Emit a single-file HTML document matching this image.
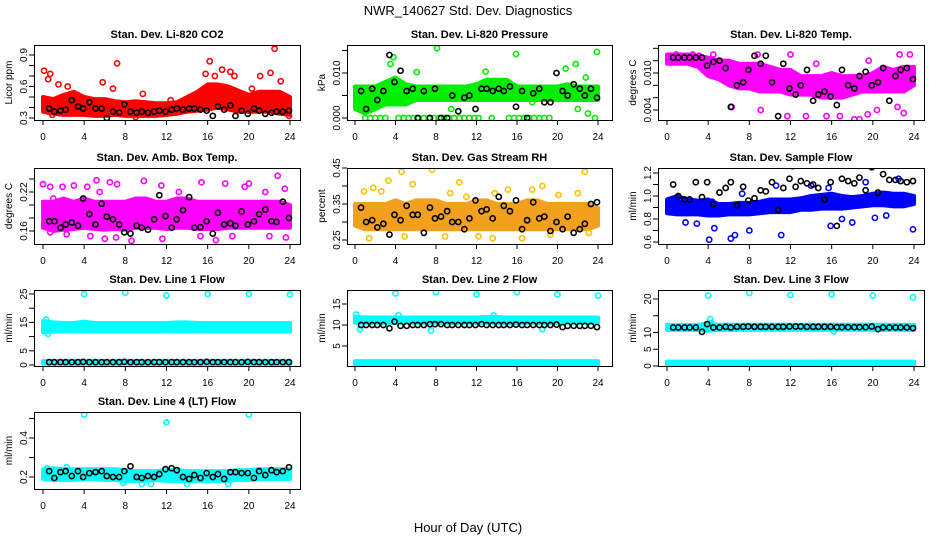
<!DOCTYPE html>
<html><head><meta charset="utf-8"><style>
html,body{margin:0;padding:0;background:#fff;}
svg{display:block;font-family:"Liberation Sans",sans-serif;}
</style></head><body>
<svg id="chart" width="936" height="540" viewBox="0 0 936 540" xmlns="http://www.w3.org/2000/svg">
<rect width="936" height="540" fill="#fff"/>
<text x="468" y="15" font-size="13" text-anchor="middle">NWR_140627  Std. Dev. Diagnostics</text>
<text x="468" y="532" font-size="13" text-anchor="middle">Hour of Day (UTC)</text>
</svg>
<script>
const xTicks = [0,4,8,12,16,20,24];
const bandHours = [0,1,2,3,4,5,6,7,8,9,10,11,12,13,14,15,16,17,18,19,20,21,22,23,24];
const blackHours = [0.6,1.1,1.7,2.2,2.8,3.4,3.9,4.5,5.1,5.7,6.2,6.8,7.4,7.9,8.5,9.1,9.6,10.2,10.8,11.3,11.9,12.5,13.0,13.6,14.2,14.7,15.3,15.9,16.5,17.0,17.6,18.2,18.7,19.3,19.9,20.5,21.0,21.6,22.2,22.7,23.3,23.9];

// CO2
const co2Lo = [0.36,0.34,0.33,0.33,0.33,0.32,0.32,0.33,0.32,0.32,0.32,0.32,0.33,0.34,0.36,0.37,0.38,0.40,0.38,0.36,0.36,0.36,0.36,0.34,0.33];
const co2Hi = [0.50,0.48,0.52,0.55,0.50,0.48,0.48,0.46,0.45,0.46,0.45,0.44,0.44,0.45,0.50,0.55,0.62,0.62,0.60,0.56,0.52,0.55,0.55,0.55,0.50];
const co2OutH = [0.1,0.5,0.7,1.5,2.4,5.8,6.8,7.2,9.7,12.4,15.8,16.2,16.7,17.4,18.2,18.6,20.3,21.1,22.1,22.5,23.1,23.9,0.9,3.0,9.0,5.0];
const co2OutV = [0.75,0.67,0.72,0.62,0.60,0.64,0.58,0.82,0.53,0.47,0.72,0.84,0.70,0.76,0.74,0.70,0.58,0.70,0.73,0.96,0.65,0.32,0.33,0.45,0.31,0.35];
const co2Black = [0.39,0.36,0.37,0.38,0.47,0.41,0.39,0.45,0.39,0.39,0.30,0.36,0.35,0.43,0.36,0.35,0.36,0.35,0.36,0.37,0.36,0.38,0.39,0.38,0.39,0.39,0.38,0.37,0.32,0.41,0.38,0.42,0.32,0.37,0.34,0.39,0.37,0.34,0.35,0.36,0.36,0.37];

// Pressure
const presLo = [0.002,0.001,0.002,0.003,0.003,0.003,0.004,0.004,0.004,0.004,0.004,0.004,0.004,0.004,0.004,0.004,0.004,0.004,0.004,0.004,0.004,0.004,0.004,0.004,0.004];
const presHi = [0.007,0.007,0.007,0.008,0.009,0.0075,0.007,0.007,0.007,0.007,0.007,0.007,0.0075,0.0085,0.0085,0.0085,0.007,0.007,0.007,0.007,0.007,0.0075,0.007,0.007,0.007];
const presOutH = [1,1.5,2,2.5,3,4.3,4.8,5.3,5.8,6.3,6.8,7.3,7.8,8.3,8.8,9.3,9.8,10.3,10.8,11.3,11.8,12.2,13.5,15.2,15.7,16.2,16.7,17.2,17.7,18.2,18.7,19.2,23.7,3.8,3.5,8.1,15.9,23.9,6.1,12.9,21.8,20.8,22.8,1.5,0.2,9.5,17.5,22,23];
const presOutV = [0,0,0,0,0,0,0,0,0,0,0,0,0,0,0,0,0,0,0,0,0,0,0,0,0,0,0,0,0,0,0,0,0,0.0135,0.012,0.0155,0.0142,0.0147,0.0102,0.0103,0.012,0.011,0.009,0.0045,0.0042,0.002,0.0035,0.002,0.001];
const presBlack = [0.006,0.002,0.0065,0.004,0.006,0.014,0.008,0.0105,0.006,0.0065,0.000,0.006,0.000,0.0065,0.000,0.000,0.005,0.0015,0.0045,0.005,0.002,0.0065,0.0065,0.006,0.0065,0.006,0.007,0.0025,0.006,0.000,0.0055,0.0065,0.0035,0.0035,0.010,0.006,0.005,0.0075,0.0065,0.005,0.0065,0.0045];

// Li-820 Temp
const tempLo = [0.0115,0.0115,0.0115,0.011,0.0095,0.009,0.008,0.0075,0.0075,0.007,0.007,0.007,0.0065,0.0065,0.0065,0.006,0.006,0.006,0.0065,0.007,0.007,0.007,0.007,0.007,0.008];
const tempHi = [0.013,0.013,0.013,0.0128,0.0125,0.012,0.012,0.0115,0.0115,0.0115,0.011,0.0105,0.0105,0.0095,0.0095,0.0095,0.010,0.0095,0.0095,0.0095,0.010,0.011,0.0105,0.011,0.011];
const tempOutH = [0.9,2.5,3.1,12,10.9,14,11.7,15.5,18.2,18.7,19.5,22.6,23.6,13.5,16.8,6.3,9.1,20.4,22.4,23,4.5,8.8,14.5,19.6];
const tempOutV = [0.013,0.013,0.0128,0.013,0.0005,0.0007,0.003,0.003,0.0025,0.0025,0.0033,0.013,0.013,0.003,0.003,0.0045,0.004,0.004,0.0045,0.0035,0.013,0.013,0.0115,0.012];
const tempBlack = [0.0125,0.0125,0.0125,0.0125,0.0125,0.0125,0.0112,0.0118,0.012,0.0108,0.0045,0.008,0.0085,0.0105,0.0128,0.0115,0.0128,0.0085,0.003,0.0115,0.0075,0.0065,0.008,0.0105,0.0055,0.0065,0.007,0.0062,0.0048,0.0105,0.008,0.0075,0.0095,0.0102,0.008,0.0085,0.0108,0.0055,0.0095,0.0105,0.0108,0.009];

// Amb box temp
const ambLo = [0.165,0.16,0.162,0.163,0.165,0.163,0.162,0.163,0.162,0.165,0.165,0.165,0.163,0.165,0.165,0.163,0.163,0.163,0.165,0.165,0.165,0.165,0.165,0.165,0.165];
const ambHi = [0.205,0.205,0.21,0.205,0.21,0.205,0.205,0.205,0.205,0.21,0.21,0.205,0.205,0.21,0.21,0.205,0.205,0.205,0.205,0.205,0.205,0.205,0.205,0.205,0.20];
const ambOutH = [0,0.7,1.9,3,4.3,5.2,6.5,7.2,9.5,9.8,11.5,15.4,17.7,19.6,20,22.8,23.5,0.7,2.3,4.6,6,7.1,8.6,11.6,15.3,16.8,18.4,22,23.6,21.6,13.2,5.5,1];
const ambOutV = [0.232,0.228,0.228,0.23,0.228,0.238,0.235,0.232,0.26,0.237,0.23,0.235,0.233,0.228,0.233,0.245,0.225,0.158,0.155,0.152,0.148,0.15,0.145,0.148,0.152,0.146,0.152,0.152,0.15,0.22,0.22,0.22,0.21];
const ambBlack = [0.175,0.175,0.165,0.17,0.173,0.168,0.21,0.186,0.17,0.202,0.182,0.178,0.17,0.158,0.156,0.168,0.165,0.162,0.178,0.215,0.183,0.165,0.178,0.192,0.212,0.165,0.166,0.175,0.156,0.188,0.17,0.172,0.168,0.19,0.17,0.175,0.186,0.193,0.175,0.174,0.205,0.18];

// Gas stream RH
const rhLo = [0.29,0.28,0.28,0.28,0.28,0.28,0.28,0.28,0.28,0.28,0.28,0.28,0.28,0.28,0.28,0.28,0.28,0.28,0.28,0.28,0.28,0.28,0.28,0.28,0.29];
const rhHi = [0.35,0.35,0.35,0.35,0.36,0.35,0.36,0.36,0.36,0.35,0.35,0.35,0.36,0.36,0.35,0.35,0.35,0.36,0.36,0.35,0.35,0.35,0.35,0.35,0.34];
const rhOutH = [1.4,3.3,4.6,5.7,7.6,8.9,10.3,15.1,16.5,18.5,22.7,23.1,0.9,1.8,2.6,4.9,12.2,13.6,20.1,22,17.5,9.4,11,13.8,19.3];
const rhOutV = [0.255,0.415,0.44,0.405,0.445,0.26,0.41,0.39,0.255,0.40,0.44,0.27,0.385,0.395,0.385,0.26,0.26,0.255,0.375,0.38,0.39,0.38,0.37,0.38,0.265];
const rhBlack = [0.34,0.30,0.305,0.285,0.295,0.265,0.32,0.305,0.345,0.32,0.32,0.27,0.34,0.31,0.315,0.33,0.30,0.30,0.28,0.31,0.36,0.33,0.335,0.31,0.37,0.345,0.33,0.36,0.28,0.305,0.355,0.31,0.315,0.275,0.30,0.28,0.315,0.27,0.28,0.295,0.35,0.355];

// Sample flow
const sfLo = [0.85,0.84,0.84,0.84,0.83,0.83,0.84,0.84,0.84,0.85,0.86,0.86,0.86,0.88,0.88,0.89,0.89,0.89,0.90,0.91,0.92,0.92,0.91,0.91,0.93];
const sfHi = [0.97,1.0,0.97,0.96,0.97,0.93,0.93,0.94,0.94,0.95,0.97,0.97,0.97,0.98,1.0,1.01,1.02,1.0,0.99,1.0,1.02,1.03,1.02,1.02,1.0];
const sfOutH = [1.8,2.9,4.1,4.6,6.2,6.6,8,11.1,15.9,18,17,20.2,21.3,23.9,12.2,19.3,15.7,10.6,7.3,4.4,14,22.5];
const sfOutV = [0.77,0.76,0.62,0.72,0.63,0.66,0.70,0.66,0.74,0.77,0.80,0.81,0.83,0.71,1.26,1.12,1.07,1.09,1.02,0.95,1.09,1.15];
const sfBlack = [1.1,1.0,0.97,0.97,1.12,0.99,1.12,0.93,1.03,1.07,1.12,0.92,1.08,0.96,0.98,1.05,1.04,1.12,0.88,1.07,1.15,1.08,1.13,1.11,1.10,1.07,0.97,1.12,0.74,1.15,1.13,1.11,1.16,1.05,1.25,1.03,1.19,1.14,1.14,1.13,1.12,1.13];

// Line 1
const l1Lo = [11.5,11.8,11.8,11.8,11.8,11.8,11.8,11.8,11.8,11.8,11.8,11.8,11.8,11.8,11.8,11.8,11.8,11.8,11.8,11.8,11.8,11.8,11.8,11.8,11.8];
const l1Hi = [15.5,15,14.8,14.8,15.3,14.8,14.8,14.8,14.8,14.8,14.8,14.8,14.8,15,15,14.8,14.8,14.8,14.8,14.8,14.8,14.8,14.8,14.8,14.8];
const l1Lo2 = [0.5,0.5,0.5,0.5,0.5,0.5,0.5,0.5,0.5,0.5,0.5,0.5,0.5,0.5,0.5,0.5,0.5,0.5,0.5,0.5,0.5,0.5,0.5,0.5,0.5];
const l1Hi2 = [1.4,1.4,1.4,1.4,1.4,1.4,1.4,1.4,1.4,1.4,1.4,1.4,1.4,1.4,1.4,1.4,1.4,1.4,1.4,1.4,1.4,1.4,1.4,1.4,1.4];
const l1OutH = [4,8,12,16,20,24,0.3,0.5];
const l1OutV = [25,25.5,24.5,25,25,24.8,16,11];
const l1Black = [1,1,1,1,1,1,1.1,1,1,1,1,1,1,1.1,1,1,1,1,1,1,1,1,1,1,1,1,1,1.1,1,1,1,1,1,1,1.1,1,1,1,1,1,1,1];

// Line 2
const l2Lo = [10.5,10.5,10.5,10.5,10.5,10.5,10.5,10.5,10.5,10.5,10.5,10.5,10.5,10.5,10.5,10.5,10.5,10.5,10.5,10.5,10.5,10.5,10.5,10.5,10.5];
const l2Hi = [12,11.8,11.8,11.8,11.8,11.8,11.8,11.8,11.8,11.8,11.8,11.8,11.8,11.9,11.9,11.8,11.8,11.8,11.8,11.8,11.8,11.8,11.8,11.8,11.8];
const l2Lo2 = [0.5,0.5,0.5,0.5,0.5,0.5,0.5,0.5,0.5,0.5,0.5,0.5,0.5,0.5,0.5,0.5,0.5,0.5,0.5,0.5,0.5,0.5,0.5,0.5,0.5];
const l2Hi2 = [1.4,1.4,1.4,1.4,1.4,1.4,1.4,1.4,1.4,1.4,1.4,1.4,1.4,1.4,1.4,1.4,1.4,1.4,1.4,1.4,1.4,1.4,1.4,1.4,1.4];
const l2OutH = [4,8,12,16,20,24,0.5,7.5,18.5,0.1,4.3,13.7];
const l2OutV = [17.5,17.8,17.3,17.8,17.3,17.0,9,8.7,9,12.5,12.3,12.3];
const l2Black = [10,10,10,10,10,9.2,10.8,9.8,9.8,10,10,10,10.2,10.2,10.2,10,10,10,10,10,10,10.2,10,10,10,10,10,10.1,10,10,10,10,10,10,10.1,9.5,9.8,9.8,9.8,9.8,9.8,9.5];

// Line 3
const l3Lo = [10.8,10.8,10.8,10.8,10.5,10.8,10.8,10.8,10.8,10.8,10.8,10.8,10.8,10.8,10.8,10.8,10.8,10.8,10.8,10.8,10.8,10.8,10.8,10.8,10.8];
const l3Hi = [12.3,12.2,12.2,12.2,12.8,12.3,12.3,12.3,12.3,12.3,12.3,12.3,12.3,12.3,12.3,12.3,12.3,12.3,12.3,12.3,12.3,12.3,12.3,12.3,12.3];
const l3Lo2 = [0.3,0.3,0.3,0.3,0.3,0.3,0.3,0.3,0.3,0.3,0.3,0.3,0.3,0.3,0.3,0.3,0.3,0.3,0.3,0.3,0.3,0.3,0.3,0.3,0.3];
const l3Hi2 = [1.3,1.3,1.3,1.3,1.3,1.3,1.3,1.3,1.3,1.3,1.3,1.3,1.3,1.3,1.3,1.3,1.3,1.3,1.3,1.3,1.3,1.3,1.3,1.3,1.3];
const l3OutH = [4,8,12,16,20,23.9,4.2,4.3,16.2];
const l3OutV = [21,21.8,21.2,21.4,21,20.5,14,12.8,10.3];
const l3Black = [11.5,11.5,11.5,11.5,11.5,10.2,12.5,11.5,11.5,11.7,11.5,11.7,11.7,11.8,11.7,11.7,11.7,11.7,11.7,11.7,11.8,11.8,11.8,11.7,11.7,11.7,11.7,11.7,11.6,11.6,11.6,11.6,11.6,11.6,11.8,11,11.5,11.5,11.5,11.5,11.5,11.3];

// Line 4
const l4Lo = [0.19,0.185,0.185,0.185,0.19,0.19,0.185,0.185,0.18,0.18,0.18,0.185,0.18,0.18,0.18,0.18,0.18,0.18,0.18,0.185,0.185,0.19,0.19,0.19,0.19];
const l4Hi = [0.24,0.245,0.24,0.24,0.24,0.24,0.24,0.24,0.235,0.23,0.23,0.23,0.235,0.235,0.23,0.23,0.23,0.23,0.23,0.235,0.235,0.24,0.24,0.24,0.24];
const l4OutH = [4,12,20,7.8,9.6,10.5,18,14,0.4,2.3];
const l4OutV = [0.52,0.48,0.52,0.17,0.165,0.165,0.165,0.165,0.245,0.25];
const l4Black = [0.23,0.195,0.225,0.23,0.205,0.23,0.2,0.22,0.225,0.23,0.205,0.2,0.2,0.23,0.255,0.2,0.195,0.205,0.2,0.215,0.24,0.245,0.235,0.2,0.19,0.21,0.195,0.22,0.2,0.215,0.19,0.225,0.225,0.22,0.22,0.195,0.23,0.21,0.235,0.225,0.23,0.25];

const panels = [
 {id:'co2',title:'Stan. Dev. Li-820 CO2',ylab:'Licor ppm',box:[34,45,300,120],xr:[43,290],yv:[0.3,0.9],yp:[118,55],ticks:[0.3,0.4,0.5,0.6,0.7,0.8,0.9],tlab:['0.3','','','0.6','','','0.9'],color:'#ff0000',lo:co2Lo,hi:co2Hi,oh:co2OutH,ov:co2OutV,bk:co2Black},
 {id:'pressure',title:'Stan. Dev. Li-820 Pressure',ylab:'kPa',box:[347,45,612,120],xr:[355,598],yv:[0,0.01],yp:[118,73],ticks:[0,0.005,0.01,0.015],tlab:['0.000','','0.010',''],color:'#00ee00',lo:presLo,hi:presHi,oh:presOutH,ov:presOutV,bk:presBlack},
 {id:'li820-temp',title:'Stan. Dev. Li-820 Temp.',ylab:'degrees C',box:[658,45,924,120],xr:[667,914],yv:[0.004,0.010],yp:[110,73],ticks:[0.004,0.006,0.008,0.010,0.012,0.014],tlab:['0.004','','','0.010','',''],color:'#ff00ff',lo:tempLo,hi:tempHi,oh:tempOutH,ov:tempOutV,bk:tempBlack},
 {id:'amb-box-temp',title:'Stan. Dev. Amb. Box Temp.',ylab:'degrees C',box:[34,168,300,244],xr:[43,290],yv:[0.16,0.22],yp:[231,192],ticks:[0.16,0.18,0.20,0.22,0.24],tlab:['0.16','','','0.22',''],color:'#ff00ff',lo:ambLo,hi:ambHi,oh:ambOutH,ov:ambOutV,bk:ambBlack},
 {id:'gas-stream-rh',title:'Stan. Dev. Gas Stream RH',ylab:'percent',box:[347,168,612,244],xr:[355,598],yv:[0.25,0.45],yp:[240,168],ticks:[0.25,0.30,0.35,0.40,0.45],tlab:['0.25','','0.35','','0.45'],color:'#f2a01e',ocolor:'#ffc000',lo:rhLo,hi:rhHi,oh:rhOutH,ov:rhOutV,bk:rhBlack},
 {id:'sample-flow',title:'Stan. Dev. Sample Flow',ylab:'ml/min',box:[658,168,924,244],xr:[667,914],yv:[0.6,1.2],yp:[242,173],ticks:[0.6,0.7,0.8,0.9,1.0,1.1,1.2],tlab:['0.6','','0.8','','1.0','','1.2'],color:'#0000ff',lo:sfLo,hi:sfHi,oh:sfOutH,ov:sfOutV,bk:sfBlack},
 {id:'line1-flow',title:'Stan. Dev. Line 1 Flow',ylab:'ml/min',box:[34,290,300,366],xr:[43,290],yv:[0,25],yp:[365,294],ticks:[0,5,10,15,20,25],tlab:['0','5','','15','','25'],color:'#00ffff',lo:l1Lo,hi:l1Hi,lo2:l1Lo2,hi2:l1Hi2,oh:l1OutH,ov:l1OutV,bk:l1Black},
 {id:'line2-flow',title:'Stan. Dev. Line 2 Flow',ylab:'ml/min',box:[347,290,612,366],xr:[355,598],yv:[5,15],yp:[346,304],ticks:[5,10,15],tlab:['5','10','15'],color:'#00ffff',lo:l2Lo,hi:l2Hi,lo2:l2Lo2,hi2:l2Hi2,oh:l2OutH,ov:l2OutV,bk:l2Black},
 {id:'line3-flow',title:'Stan. Dev. Line 3 Flow',ylab:'ml/min',box:[658,290,924,366],xr:[667,914],yv:[0,20],yp:[366,299],ticks:[0,5,10,15,20],tlab:['0','5','10','','20'],color:'#00ffff',lo:l3Lo,hi:l3Hi,lo2:l3Lo2,hi2:l3Hi2,oh:l3OutH,ov:l3OutV,bk:l3Black},
 {id:'line4-flow',title:'Stan. Dev. Line 4 (LT) Flow',ylab:'ml/min',box:[34,412,300,489],xr:[43,290],yv:[0.2,0.4],yp:[477,438],ticks:[0.2,0.3,0.4,0.5],tlab:['0.2','','0.4',''],color:'#00ffff',lo:l4Lo,hi:l4Hi,oh:l4OutH,ov:l4OutV,bk:l4Black}
];

const NS='http://www.w3.org/2000/svg';
const svg=document.getElementById('chart');
function mk(tag,attrs,parent){const e=document.createElementNS(NS,tag);for(const k in attrs)e.setAttribute(k,attrs[k]);parent.appendChild(e);return e;}

panels.forEach(p=>{
  const g=mk('g',{},svg);
  
  
  const [L,T,R,B]=p.box;
  const X=h=>p.xr[0]+(h/24)*(p.xr[1]-p.xr[0]);
  const Y=v=>p.yp[0]+(v-p.yv[0])/(p.yv[1]-p.yv[0])*(p.yp[1]-p.yp[0]);
  const clip='clip-'+p.id;
  const cp=mk('clipPath',{id:clip},g);
  mk('rect',{x:L,y:T,width:R-L,height:B-T},cp);
  const data=mk('g',{'clip-path':'url(#'+clip+')'},g);
  function band(lo,hi,name){
    let pts=[];
    bandHours.forEach((h,i)=>pts.push(X(h)+','+Y(hi[i])));
    for(let i=bandHours.length-1;i>=0;i--)pts.push(X(bandHours[i])+','+Y(lo[i]));
    const pg=mk('polygon',{points:pts.join(' '),fill:p.color,stroke:p.color,'stroke-width':4,'stroke-linejoin':'round'},data);
    
    
  }
  band(p.lo,p.hi,p.id+'-dense-band');
  if(p.lo2) band(p.lo2,p.hi2,p.id+'-low-band');
  p.oh.forEach((h,i)=>{
    const c=mk('circle',{cx:X(h),cy:Y(p.ov[i]),r:2.6,fill:'none',stroke:p.ocolor||p.color,'stroke-width':1.6},data);
    
    
  });
  blackHours.forEach((h,i)=>{
    const c=mk('circle',{cx:X(h),cy:Y(p.bk[i]),r:2.6,fill:'none',stroke:'#000','stroke-width':1.6},data);
    
    
  });
  const bx=mk('rect',{x:L+0.5,y:T+0.5,width:R-L,height:B-T,fill:'none',stroke:'#000','stroke-width':1},g);
  
  
  const t=mk('text',{x:(L+R)/2,y:T-7,'font-size':11,'font-weight':'bold','text-anchor':'middle'},g);
  t.textContent=p.title;
  
  
  xTicks.forEach(h=>{
    mk('line',{x1:X(h),x2:X(h),y1:B,y2:B+5,stroke:'#000'},g);
    const l=mk('text',{x:X(h),y:B+20,'font-size':10,'text-anchor':'middle'},g);
    l.textContent=h;
    
    
  });
  p.ticks.forEach((v,i)=>{
    const y=Y(v); if(y<T-1||y>B+1) return;
    mk('line',{x1:L-5,x2:L,y1:y,y2:y,stroke:'#000'},g);
    if(p.tlab[i]){
      const l=mk('text',{x:L-7,y:y,'font-size':10,'text-anchor':'middle',transform:'rotate(-90 '+(L-7)+' '+y+')'},g);
      l.textContent=p.tlab[i];
      
      
    }
  });
  const yl=mk('text',{x:L-22,y:(T+B)/2,'font-size':10,'text-anchor':'middle',transform:'rotate(-90 '+(L-22)+' '+((T+B)/2)+')'},g);
  yl.textContent=p.ylab;
  
  
});
</script>
</body></html>
